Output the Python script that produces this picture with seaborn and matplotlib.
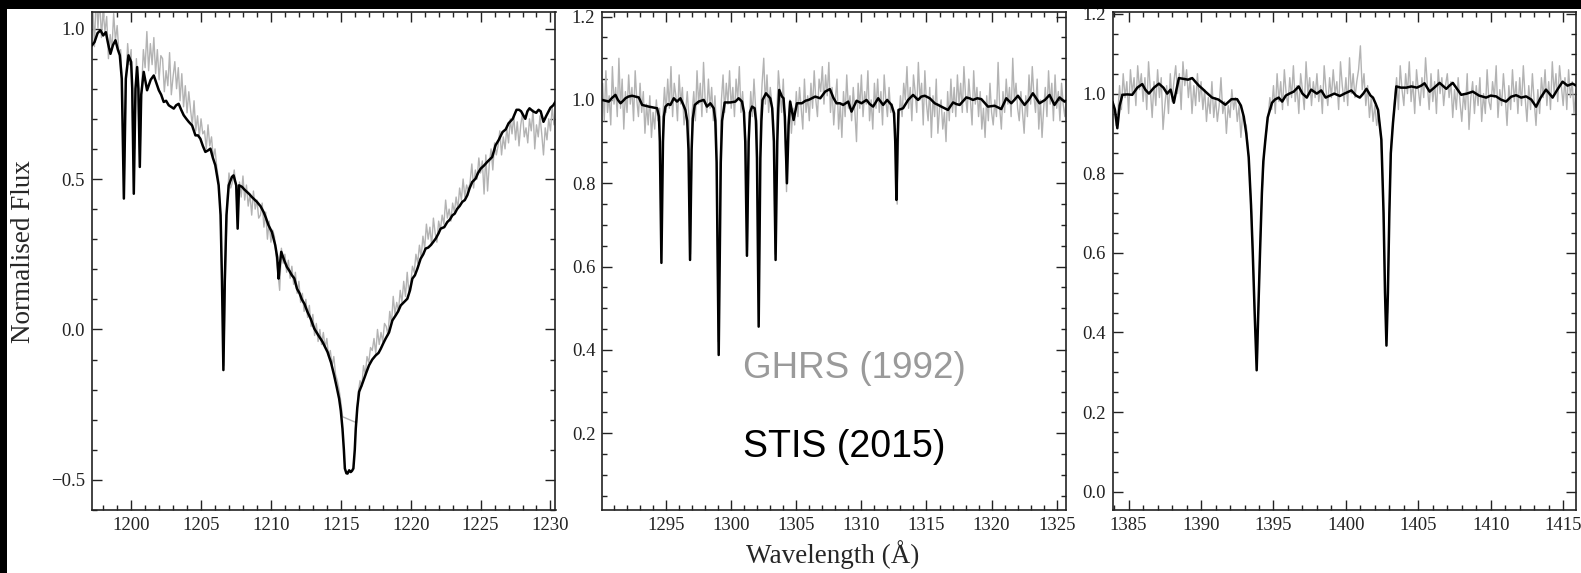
import numpy as np
import pandas as pd
import matplotlib
matplotlib.use("Agg")
import matplotlib.pyplot as plt
from matplotlib.ticker import MultipleLocator
from matplotlib.patches import Rectangle
import seaborn as sns

# ---------------- data ----------------
# GHRS (1992) spectra: uniformly sampled, 0.125 A pixels
GHRS_STEP = 0.125
ghrs1_start = 1197.25
ghrs1_flux = [
    1.08, 0.94, 1.12, 1.00, 1.10, 0.97, 1.06, 0.99,
    1.04, 0.90, 0.98, 0.93, 1.05, 0.96, 1.01, 0.92,
    0.93, 0.80, 0.46, 0.82, 0.95, 0.88, 0.93, 0.62,
    0.60, 0.90, 0.76, 0.55, 0.80, 0.93, 0.87, 0.99,
    0.86, 0.95, 0.88, 0.97, 0.85, 0.93, 0.83, 0.91,
    0.90, 0.79, 0.86, 0.81, 0.92, 0.78, 0.84, 0.89,
    0.80, 0.87, 0.76, 0.85, 0.74, 0.81, 0.72, 0.79,
    0.73, 0.68, 0.76, 0.66, 0.71, 0.64, 0.70, 0.65,
    0.66, 0.60, 0.68, 0.61, 0.64, 0.57, 0.60, 0.54,
    0.50, 0.40, 0.16, -0.12, 0.20, 0.43, 0.52, 0.47,
    0.49, 0.53, 0.47, 0.36, 0.49, 0.44, 0.51, 0.43,
    0.48, 0.41, 0.45, 0.38, 0.46, 0.40, 0.43, 0.37,
    0.38, 0.42, 0.34, 0.39, 0.30, 0.36, 0.29, 0.33,
    0.31, 0.24, 0.19, 0.13, 0.27, 0.22, 0.25, 0.19,
    0.23, 0.17, 0.21, 0.15, 0.19, 0.12, 0.16, 0.09,
    0.12, 0.06, 0.10, 0.04, 0.08, 0.01, 0.05, -0.02,
    0.02, -0.04, 0.00, -0.05, -0.01, -0.06, -0.03, -0.09,
    -0.07, -0.12, -0.09, -0.15, -0.17, -0.20, -0.24, -0.29,
    np.nan, np.nan, np.nan, np.nan, np.nan, np.nan, np.nan, -0.31,
    -0.21, -0.17, -0.19, -0.12, -0.15, -0.09, -0.11, -0.06,
    -0.07, -0.03, -0.08, 0.00, -0.05, -0.01, -0.04, 0.02,
    0.01, -0.02, 0.06, 0.02, 0.11, 0.05, 0.09, 0.06,
    0.13, 0.09, 0.16, 0.11, 0.19, 0.12, 0.15, 0.21,
    0.19, 0.25, 0.22, 0.28, 0.24, 0.31, 0.27, 0.35,
    0.30, 0.34, 0.28, 0.37, 0.32, 0.29, 0.36, 0.33,
    0.38, 0.35, 0.43, 0.37, 0.40, 0.36, 0.42, 0.39,
    0.44, 0.40, 0.47, 0.43, 0.50, 0.44, 0.48, 0.46,
    0.49, 0.55, 0.47, 0.53, 0.50, 0.57, 0.52, 0.56,
    0.45, 0.58, 0.46, 0.55, 0.60, 0.53, 0.62, 0.58,
    0.61, 0.66, 0.58, 0.64, 0.60, 0.67, 0.62, 0.70,
    0.65, 0.71, 0.63, 0.69, 0.61, 0.68, 0.72, 0.64,
    0.67, 0.62, 0.70, 0.66, 0.73, 0.60, 0.68, 0.64,
    0.71, 0.65, 0.58, 0.67, 0.63, 0.70, 0.66, 0.74,
    0.68, 0.72,
]

ghrs2_start = 1290.125
ghrs2_flux = [
    1.04, 0.95, 1.07, 0.97, 1.01, 0.94, 1.08, 0.99,
    1.03, 0.96, 1.10, 0.98, 1.05, 0.93, 1.02, 0.97,
    1.06, 0.99, 1.03, 0.95, 1.07, 1.00, 0.96, 1.04,
    0.97, 1.02, 0.92, 0.99, 0.94, 1.01, 0.91, 0.97,
    0.93, 1.00, 0.95, 0.98, 0.62, 0.96, 1.03, 0.97,
    1.05, 0.98, 1.08, 0.96, 1.04, 1.01, 0.95, 1.06,
    0.99, 1.03, 0.94, 0.97, 1.02, 0.96, 0.63, 0.97,
    1.02, 0.95, 1.07, 0.99, 1.04, 0.96, 1.09, 1.00,
    0.97, 1.05, 0.98, 1.03, 0.95, 1.01, 0.93, 0.42,
    0.80, 1.00, 1.06, 0.97, 1.04, 0.99, 1.07, 0.98,
    1.03, 0.96, 1.05, 1.00, 1.08, 0.97, 1.02, 0.95,
    0.90, 0.64, 0.93, 1.02, 0.96, 1.05, 0.98, 0.94,
    0.47, 0.96, 1.04, 1.10, 0.99, 1.06, 0.97, 1.03,
    0.99, 0.95, 0.63, 0.96, 1.07, 1.02, 0.97, 1.05,
    0.94, 0.78, 0.95, 1.00, 0.92, 0.98, 0.94, 1.02,
    0.96, 1.03, 0.98, 0.93, 1.05, 0.97, 1.01, 0.95,
    1.04, 0.98, 1.07, 1.00, 0.96, 1.05, 1.02, 1.08,
    0.99, 1.06, 1.01, 1.09, 0.97, 1.03, 0.94, 1.00,
    1.05, 0.93, 0.99, 0.91, 1.02, 0.96, 1.06, 0.98,
    1.01, 0.95, 1.03, 0.97, 0.90, 1.04, 0.98, 1.06,
    0.96, 1.02, 0.99, 1.07, 0.95, 1.00, 0.93, 1.04,
    0.98, 1.05, 0.97, 1.02, 0.94, 1.06, 1.00, 0.96,
    1.03, 0.97, 0.99, 0.95, 0.93, 0.75, 0.95, 1.01,
    0.96, 1.04, 1.00, 1.08, 0.98, 1.03, 0.95, 1.06,
    1.02, 0.97, 1.09, 1.00, 1.04, 0.94, 1.07, 0.99,
    0.95, 1.03, 0.91, 1.01, 0.96, 1.05, 0.92, 0.98,
    1.00, 0.93, 0.97, 0.90, 1.02, 0.95, 1.05, 0.97,
    1.03, 0.96, 1.06, 0.99, 1.04, 0.97, 1.08, 1.01,
    0.97, 1.05, 1.00, 0.94, 1.07, 0.99, 1.03, 0.96,
    1.02, 0.93, 0.98, 0.91, 1.01, 0.95, 1.04, 0.97,
    0.94, 1.00, 0.96, 1.09, 0.98, 0.93, 1.02, 0.97,
    1.05, 0.99, 1.03, 0.96, 1.10, 1.00, 1.04, 0.98,
    0.95, 1.02, 0.97, 0.92, 1.01, 0.96, 1.06, 0.99,
    1.08, 1.01, 0.97, 1.05, 0.93, 1.00, 0.91, 0.98,
    1.03, 0.96, 1.07, 0.99, 1.04, 0.95, 1.06, 0.98,
    1.02, 0.95, 1.04, 0.99, 0.96, 1.01,
]

ghrs3_start = 1384.0
ghrs3_flux = [
    0.97, 0.92, 0.95, 1.02, 0.96, 1.05, 0.99, 1.03,
    0.95, 1.06, 1.00, 1.04, 0.97, 1.07, 1.01, 1.05,
    0.98, 1.04, 0.96, 1.08, 1.01, 0.94, 1.03, 0.97,
    1.06, 0.99, 1.04, 0.91, 0.97, 1.02, 0.95, 1.05,
    0.98, 1.03, 1.07, 1.00, 1.05, 0.96, 1.08, 1.02,
    1.06, 0.99, 1.04, 0.95, 1.02, 0.97, 1.05, 0.98,
    1.03, 0.96, 1.01, 0.93, 0.99, 0.95, 1.03, 0.94,
    0.99, 0.93, 0.97, 1.04, 0.95, 0.98, 0.90, 0.97,
    0.94, 1.01, 0.96, 0.99, 0.93, 0.97, 0.89, 0.95,
    0.93, 0.92, 0.86, 0.78, 0.69, 0.54, 0.40, 0.32,
    0.52, 0.67, 0.78, 0.86, 0.90, 0.94, 0.99, 0.96,
    1.02, 0.95, 1.05, 0.98, 1.03, 0.96, 1.06, 1.00,
    0.97, 1.04, 0.99, 1.07, 0.98, 1.02, 0.95, 1.05,
    1.01, 0.96, 1.08, 1.00, 1.04, 0.97, 1.03, 0.99,
    1.05, 0.98, 1.02, 0.95, 1.07, 1.01, 0.97, 1.04,
    0.99, 1.06, 1.00, 1.03, 0.96, 1.08, 1.02, 0.98,
    1.04, 0.97, 1.09, 1.00, 1.05, 0.99, 1.03, 1.06,
    1.12, 1.01, 1.05, 0.97, 1.02, 0.94, 0.99, 0.93,
    0.97, 0.92, 0.95, 0.91, 0.83, 0.65, 0.43, 0.45,
    0.70, 0.87, 0.93, 0.99, 1.04, 0.96, 1.07, 1.01,
    0.97, 1.05, 1.00, 1.08, 0.98, 1.03, 0.95, 1.06,
    1.01, 0.97, 1.04, 0.99, 1.09, 1.02, 0.96, 1.05,
    0.98, 1.03, 0.95, 1.06, 1.00, 1.04, 0.97, 1.02,
    1.05, 0.99, 1.03, 0.94, 1.01, 0.96, 1.04, 0.98,
    0.93, 1.00, 0.96, 1.05, 0.91, 0.99, 1.03, 0.95,
    1.02, 0.97, 1.04, 0.93, 1.00, 0.95, 1.06, 0.98,
    0.96, 1.03, 0.99, 1.07, 0.94, 1.01, 0.97, 1.05,
    0.99, 0.92, 1.02, 0.96, 1.06, 0.98, 1.03, 0.95,
    1.04, 0.97, 1.07, 0.99, 0.93, 1.02, 0.96, 1.05,
    0.98, 0.92, 1.01, 0.95, 1.04, 0.99, 1.06, 0.97,
    1.03, 0.96, 1.08, 1.00, 1.05, 0.98, 1.07, 1.02,
    0.97, 1.04, 0.96, 1.06, 0.99, 1.03, 0.95, 1.01,
]

# STIS (2015) spectra
stis1_wave = [
    1197.2, 1197.38, 1197.6, 1197.81, 1198.0, 1198.19, 1198.35, 1198.52, 1198.7, 1198.88,
    1199.05, 1199.19, 1199.33, 1199.48, 1199.62, 1199.81, 1200.0, 1200.08, 1200.19, 1200.31,
    1200.43, 1200.52, 1200.62, 1200.72, 1200.9, 1201.14, 1201.4, 1201.62, 1201.98, 1202.15,
    1202.33, 1202.5, 1202.69, 1202.85, 1203.05, 1203.22, 1203.4, 1203.58, 1203.76, 1203.95,
    1204.12, 1204.36, 1204.6, 1204.78, 1204.95, 1205.13, 1205.31, 1205.5, 1205.67, 1205.85,
    1206.02, 1206.26, 1206.4, 1206.5, 1206.6, 1206.7, 1206.82, 1206.98, 1207.21, 1207.33,
    1207.52, 1207.62, 1207.72, 1207.93, 1208.1, 1208.29, 1208.45, 1208.64, 1208.82, 1209.0,
    1209.25, 1209.48, 1209.65, 1209.83, 1210.07, 1210.31, 1210.45, 1210.55, 1210.65, 1210.74,
    1210.95, 1211.14, 1211.32, 1211.5, 1211.67, 1211.86, 1212.05, 1212.21, 1212.4, 1212.6,
    1212.85, 1213.1, 1213.4, 1213.69, 1214.05, 1214.3, 1214.52, 1214.7, 1214.88, 1215.0,
    1215.12, 1215.22, 1215.29, 1215.4, 1215.48, 1215.6, 1215.71, 1215.8, 1215.9, 1216.0,
    1216.07, 1216.18, 1216.31, 1216.5, 1216.67, 1216.85, 1217.02, 1217.25, 1217.5, 1217.7,
    1217.86, 1218.05, 1218.21, 1218.45, 1218.69, 1218.93, 1219.1, 1219.29, 1219.5, 1219.76,
    1219.95, 1220.12, 1220.3, 1220.48, 1220.71, 1220.9, 1221.07, 1221.25, 1221.43, 1221.6,
    1221.79, 1222.0, 1222.14, 1222.4, 1222.62, 1222.8, 1222.98, 1223.15, 1223.33, 1223.5,
    1223.69, 1223.87, 1224.05, 1224.22, 1224.4, 1224.64, 1224.82, 1225.0, 1225.25, 1225.48,
    1225.65, 1225.83, 1226.07, 1226.3, 1226.57, 1226.8, 1227.0, 1227.3, 1227.57, 1227.75,
    1227.9, 1228.05, 1228.2, 1228.35, 1228.5, 1228.75, 1228.98, 1229.15, 1229.3, 1229.5,
    1229.7, 1230.0, 1230.2, 1230.4,
]
stis1_flux = [
    0.944, 0.955, 0.985, 0.994, 0.977, 0.988, 0.95, 0.916, 0.945, 0.961,
    0.93, 0.911, 0.833, 0.435, 0.833, 0.911, 0.889, 0.80, 0.451, 0.80,
    0.872, 0.80, 0.54, 0.78, 0.856, 0.795, 0.83, 0.844, 0.795, 0.78,
    0.756, 0.76, 0.745, 0.74, 0.734, 0.745, 0.75, 0.73, 0.712, 0.70,
    0.69, 0.678, 0.645, 0.645, 0.634, 0.61, 0.59, 0.595, 0.601, 0.57,
    0.546, 0.479, 0.38, 0.16, -0.135, 0.16, 0.38, 0.479, 0.507, 0.512,
    0.479, 0.335, 0.479, 0.474, 0.465, 0.457, 0.45, 0.44, 0.432, 0.424,
    0.41, 0.39, 0.37, 0.346, 0.324, 0.28, 0.24, 0.169, 0.22, 0.258,
    0.23, 0.208, 0.195, 0.18, 0.17, 0.136, 0.12, 0.10, 0.085, 0.06,
    0.035, 0.003, -0.02, -0.041, -0.075, -0.11, -0.152, -0.19, -0.23, -0.27,
    -0.33, -0.40, -0.462, -0.478, -0.479, -0.468, -0.474, -0.47, -0.462, -0.40,
    -0.33, -0.26, -0.207, -0.185, -0.163, -0.14, -0.119, -0.10, -0.086, -0.078,
    -0.064, -0.045, -0.03, -0.01, 0.03, 0.047, 0.06, 0.08, 0.09, 0.102,
    0.13, 0.169, 0.18, 0.202, 0.235, 0.25, 0.269, 0.272, 0.28, 0.29,
    0.302, 0.32, 0.335, 0.34, 0.357, 0.365, 0.379, 0.385, 0.401, 0.41,
    0.424, 0.43, 0.446, 0.47, 0.49, 0.501, 0.52, 0.534, 0.545, 0.557,
    0.565, 0.573, 0.612, 0.63, 0.656, 0.665, 0.685, 0.70, 0.73, 0.73,
    0.725, 0.712, 0.70, 0.725, 0.735, 0.725, 0.72, 0.73, 0.725, 0.69,
    0.71, 0.737, 0.745, 0.76,
]

stis2_wave = [
    1290.09, 1290.35, 1290.6, 1290.85, 1291.11, 1291.3, 1291.5, 1291.7, 1291.88, 1292.1,
    1292.39, 1292.65, 1292.9, 1293.16, 1293.4, 1293.67, 1294.0, 1294.31, 1294.45, 1294.52,
    1294.64, 1294.76, 1294.83, 1294.95, 1295.15, 1295.33, 1295.59, 1295.84, 1296.1, 1296.3,
    1296.48, 1296.62, 1296.72, 1296.84, 1296.96, 1297.05, 1297.2, 1297.5, 1297.89, 1298.14,
    1298.4, 1298.66, 1298.78, 1298.88, 1299.04, 1299.2, 1299.3, 1299.5, 1299.93, 1300.32,
    1300.57, 1300.83, 1300.98, 1301.08, 1301.21, 1301.34, 1301.44, 1301.6, 1301.8, 1301.9,
    1301.98, 1302.11, 1302.24, 1302.32, 1302.41, 1302.67, 1303.0, 1303.15, 1303.28, 1303.41,
    1303.54, 1303.62, 1303.69, 1303.9, 1304.02, 1304.12, 1304.28, 1304.41, 1304.53, 1304.79,
    1305.05, 1305.43, 1305.7, 1305.94, 1306.2, 1306.45, 1306.84, 1307.22, 1307.58, 1307.85,
    1308.09, 1308.35, 1308.6, 1308.99, 1309.24, 1309.63, 1310.01, 1310.39, 1310.65, 1310.9,
    1311.29, 1311.67, 1311.98, 1312.31, 1312.51, 1312.6, 1312.69, 1312.78, 1312.85, 1313.2,
    1313.59, 1313.97, 1314.35, 1314.6, 1314.87, 1315.25, 1315.63, 1315.9, 1316.14, 1316.4,
    1316.65, 1317.04, 1317.3, 1317.55, 1318.06, 1318.3, 1318.57, 1318.9, 1319.21, 1319.72,
    1320.23, 1320.5, 1320.74, 1321.13, 1321.51, 1321.75, 1322.02, 1322.25, 1322.53, 1322.85,
    1323.17, 1323.68, 1324.1, 1324.45, 1324.83, 1325.22, 1325.6, 1325.75,
]
stis2_flux = [
    1.0, 0.998, 0.996, 1.005, 1.012, 1.0, 0.992, 0.998, 1.004, 1.008,
    1.01, 1.008, 1.006, 0.988, 0.986, 0.984, 0.982, 0.98, 0.96, 0.90,
    0.609, 0.90, 0.96, 0.984, 0.99, 0.988, 1.004, 0.996, 1.004, 0.99,
    0.976, 0.95, 0.88, 0.616, 0.88, 0.955, 0.988, 0.996, 1.0, 0.984,
    0.992, 0.98, 0.95, 0.85, 0.388, 0.85, 0.95, 0.994, 0.994, 0.996,
    1.004, 0.996, 0.97, 0.90, 0.626, 0.90, 0.97, 0.984, 0.98, 0.95,
    0.86, 0.456, 0.86, 0.95, 1.0, 1.016, 1.004, 0.98, 0.90, 0.616,
    0.90, 0.98, 1.024, 1.008, 1.004, 0.96, 0.80, 0.94, 0.996, 0.952,
    0.992, 0.992, 0.998, 1.0, 1.004, 1.008, 1.004, 1.02, 1.026, 1.005,
    0.992, 0.992, 0.988, 0.996, 0.972, 0.998, 0.992, 1.0, 0.99, 0.984,
    1.004, 0.988, 1.0, 0.988, 0.968, 0.90, 0.76, 0.90, 0.976, 0.98,
    1.0, 1.012, 1.0, 1.008, 1.01, 1.004, 0.992, 0.988, 0.984, 0.98,
    0.976, 0.994, 0.99, 0.988, 1.006, 1.004, 1.0, 1.004, 1.002, 0.984,
    0.986, 0.982, 0.978, 1.004, 0.992, 1.0, 1.01, 1.0, 0.988, 1.0,
    1.016, 0.992, 1.0, 1.012, 0.988, 1.006, 0.996, 0.998,
]

stis3_wave = [
    1383.88, 1384.05, 1384.22, 1384.38, 1384.57, 1384.9, 1385.25, 1385.6, 1385.94, 1386.15,
    1386.4, 1386.75, 1387.09, 1387.4, 1387.66, 1387.9, 1388.12, 1388.3, 1388.47, 1388.8,
    1389.1, 1389.39, 1389.6, 1389.85, 1390.1, 1390.3, 1390.76, 1391.2, 1391.68, 1392.1,
    1392.49, 1392.75, 1392.95, 1393.12, 1393.29, 1393.45, 1393.57, 1393.7, 1393.84, 1393.95,
    1394.07, 1394.2, 1394.3, 1394.44, 1394.6, 1394.9, 1395.1, 1395.36, 1395.6, 1395.85,
    1396.1, 1396.4, 1396.74, 1397.0, 1397.3, 1397.6, 1397.99, 1398.3, 1398.6, 1398.9,
    1399.2, 1399.58, 1399.9, 1400.38, 1400.7, 1400.96, 1401.2, 1401.42, 1401.7, 1401.87,
    1402.05, 1402.22, 1402.45, 1402.6, 1402.7, 1402.8, 1402.9, 1403.0, 1403.1, 1403.25,
    1403.48, 1403.8, 1404.17, 1404.52, 1404.9, 1405.2, 1405.43, 1405.78, 1406.1, 1406.47,
    1406.93, 1407.15, 1407.38, 1407.96, 1408.35, 1408.76, 1409.2, 1409.68, 1410.0, 1410.37,
    1410.7, 1411.06, 1411.4, 1411.75, 1412.1, 1412.44, 1412.8, 1413.13, 1413.45, 1413.81,
    1414.05, 1414.27, 1414.6, 1414.96, 1415.3, 1415.65, 1415.9,
]
stis3_flux = [
    0.98, 0.96, 0.913, 0.97, 0.997, 0.998, 0.997, 1.015, 1.024, 1.01,
    1.0, 1.015, 1.025, 1.015, 1.0, 1.01, 0.977, 1.01, 1.039, 1.037,
    1.035, 1.039, 1.03, 1.02, 1.012, 1.005, 0.99, 0.985, 0.972, 0.986,
    0.986, 0.97, 0.942, 0.90, 0.84, 0.72, 0.60, 0.45, 0.305, 0.45,
    0.60, 0.75, 0.83, 0.884, 0.94, 0.977, 0.985, 0.99, 0.98, 0.995,
    1.0, 1.005, 1.018, 1.0, 0.99, 1.01, 1.0, 1.008, 0.99, 0.995,
    1.0, 0.994, 1.0, 1.008, 0.995, 0.99, 1.0, 1.012, 0.995, 0.99,
    0.975, 0.959, 0.884, 0.70, 0.50, 0.367, 0.50, 0.70, 0.85, 0.926,
    1.018, 1.015, 1.015, 1.018, 1.015, 1.02, 1.026, 1.005, 1.015, 1.027,
    1.012, 1.02, 1.027, 0.997, 1.0, 1.005, 0.995, 0.99, 0.995, 0.993,
    0.985, 0.98, 0.992, 0.996, 0.99, 0.993, 0.985, 0.967, 0.99, 1.01,
    1.0, 0.99, 1.01, 1.03, 1.02, 1.025, 1.02,
]

panel_xlim = [(1197.2, 1230.36), (1290.1, 1325.7), (1383.9, 1415.9)]
panel_ylim = [(-0.6, 1.055), (0.016, 1.211), (-0.046, 1.205)]
y_major = [0.5, 0.2, 0.2]
y_minor = [0.1, 0.05, 0.05]

# ---------------- style ----------------
sns.set_theme(style="ticks")
plt.rcParams["font.family"] = ["Liberation Serif", "DejaVu Serif"]
plt.rcParams["axes.unicode_minus"] = True

W, H = 1581, 573
fig = plt.figure(figsize=(W / 100, H / 100), dpi=100)
fig.patch.set_facecolor("white")

lefts = [92, 602.3, 1112.7]
pw = 463.5
top_px, bot_px = 12, 510

ghrs = [(ghrs1_start, ghrs1_flux), (ghrs2_start, ghrs2_flux), (ghrs3_start, ghrs3_flux)]
stis = [(stis1_wave, stis1_flux), (stis2_wave, stis2_flux), (stis3_wave, stis3_flux)]

GRAY = "#b3b3b3"
axes = []
for i in range(3):
    ax = fig.add_axes([lefts[i] / W, 1 - bot_px / H, pw / W, (bot_px - top_px) / H])
    axes.append(ax)
    start, gflux = ghrs[i]
    gflux = np.array(gflux, dtype=float)
    gwave = start + GHRS_STEP * np.arange(len(gflux))
    gdf = pd.DataFrame({"wave": gwave, "flux": gflux}).dropna()
    sns.lineplot(data=gdf, x="wave", y="flux", ax=ax, color=GRAY, linewidth=1.0,
                 estimator=None, sort=False, zorder=2)
    sw, sf = stis[i]
    sdf = pd.DataFrame({"wave": sw, "flux": sf})
    sns.lineplot(data=sdf, x="wave", y="flux", ax=ax, color="black", linewidth=1.8,
                 estimator=None, sort=False, zorder=3)
    ax.set_xlim(*panel_xlim[i])
    ax.set_ylim(*panel_ylim[i])
    ax.set_xlabel("")
    ax.set_ylabel("")
    ax.xaxis.set_major_locator(MultipleLocator(5))
    ax.xaxis.set_minor_locator(MultipleLocator(1))
    ax.yaxis.set_major_locator(MultipleLocator(y_major[i]))
    ax.yaxis.set_minor_locator(MultipleLocator(y_minor[i]))
    ax.tick_params(which="both", direction="in", top=True, right=True,
                   labelsize=13.5, colors="#222222", width=1.0)
    ax.tick_params(which="major", length=7, pad=5)
    ax.tick_params(which="minor", length=3.5)
    for s in ax.spines.values():
        s.set_linewidth(1.2)
        s.set_color("#222222")
        s.set_visible(True)

fig.text(833 / W, 1 - 555 / H, "Wavelength (Å)", ha="center", va="center", fontsize=19.5)
fig.text(24 / W, 1 - 252 / H, "Normalised Flux", ha="center", va="center",
         rotation=90, fontsize=19.5)

axes[1].text(0.303, 0.285, "GHRS (1992)", transform=axes[1].transAxes,
             fontsize=26.5, color="#9a9a9a", family=["Liberation Sans", "DejaVu Sans"],
             ha="left", va="center")
axes[1].text(0.303, 0.127, "STIS (2015)", transform=axes[1].transAxes,
             fontsize=27, color="black", family=["Liberation Sans", "DejaVu Sans"],
             ha="left", va="center")

# dark borders of the scanned image
fig.add_artist(Rectangle((0, 1 - 9 / H), 1, 9 / H, transform=fig.transFigure,
                         facecolor="black", edgecolor="none", zorder=10))
fig.add_artist(Rectangle((0, 0), 7 / W, 1, transform=fig.transFigure,
                         facecolor="black", edgecolor="none", zorder=10))

fig.savefig("out.png", dpi=100)
